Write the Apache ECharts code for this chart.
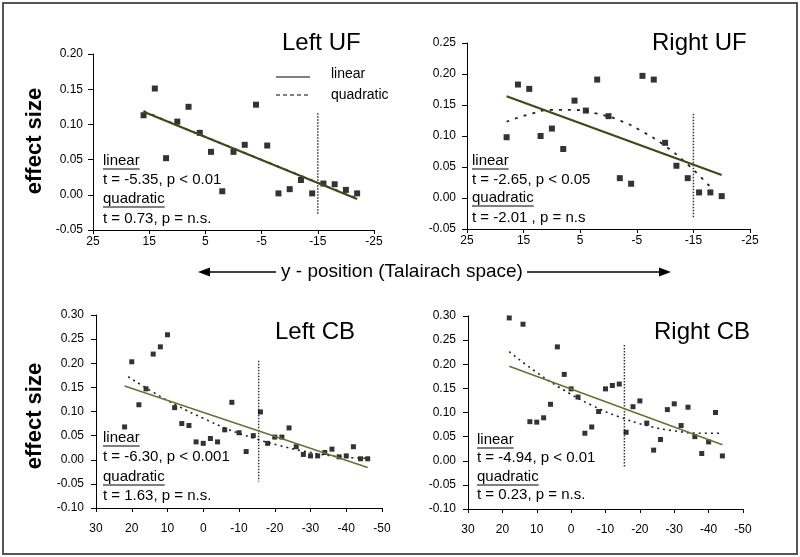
<!DOCTYPE html>
<html><head><meta charset="utf-8">
<script src="https://cdn.jsdelivr.net/npm/echarts@6/dist/echarts.min.js"></script>
<style>html,body{margin:0;padding:0;background:#fff}#c{width:800px;height:557px}</style>
</head><body><div id="c"></div>
<script>
// ---- Left UF ----
const lufX = [16,14,12,10,8,6,4,2,0,-2,-4,-6,-8,-10,-12,-14,-16,-18,-20,-22];
const lufY = [0.113,0.151,0.052,0.104,0.125,0.088,0.061,0.005,0.061,0.071,0.128,0.070,0.002,0.008,0.021,0.002,0.016,0.015,0.007,0.002];
const lufLinX = [16,-22], lufLinY = [0.118,-0.006];
const lufQX = [16,8,0,-8,-16,-22], lufQY = [0.119,0.092,0.066,0.040,0.014,-0.005];
const lufCutX = [-15,-15], lufCutY = [0.116,-0.029];
// ---- Right UF ----
const rufX = [18,16,14,12,10,8,6,4,2,0,-2,-4,-6,-8,-10,-12,-14,-16,-18,-20];
const rufY = [0.098,0.183,0.176,0.100,0.112,0.079,0.157,0.141,0.191,0.132,0.032,0.023,0.197,0.191,0.089,0.052,0.032,0.009,0.009,0.003];
const rufLinX = [18,-20], rufLinY = [0.164,0.037];
const rufQX = [18,14,10,6,2,-2,-6,-10,-14,-18], rufQY = [0.123,0.135,0.142,0.142,0.136,0.125,0.107,0.084,0.054,0.018];
const rufCutX = [-15,-15], rufCutY = [0.136,-0.031];
// ---- Left CB ----
const lcbX = [22,20,18,16,14,12,10,8,6,4,2,0,-2,-4,-6,-8,-10,-12,-14,-16,-18,-20,-22,-24,-26,-28,-30,-32,-34,-36,-38,-40,-42,-44,-46];
const lcbY = [0.068,0.203,0.114,0.147,0.219,0.234,0.259,0.108,0.075,0.071,0.037,0.034,0.044,0.037,0.062,0.119,0.056,0.017,0.050,0.099,0.034,0.047,0.047,0.066,0.027,0.011,0.008,0.008,0.015,0.022,0.006,0.008,0.027,0.002,0.002];
const lcbLinX = [22,-46], lcbLinY = [0.153,-0.016];
const lcbQX = [21,14,7,0,-7,-14,-21,-28,-35,-42,-46], lcbQY = [0.172,0.140,0.111,0.086,0.063,0.045,0.030,0.018,0.009,0.004,0.003];
const lcbCutX = [-15.5,-15.5], lcbCutY = [0.205,-0.045];
// ---- Right CB ----
const rcbX = [18,16,14,12,10,8,6,4,2,0,-2,-4,-6,-8,-10,-12,-14,-16,-18,-20,-22,-24,-26,-28,-30,-32,-34,-36,-38,-40,-42,-44];
const rcbY = [0.296,0.301,0.283,0.081,0.080,0.089,0.117,0.236,0.179,0.149,0.132,0.057,0.070,0.102,0.149,0.156,0.159,0.059,0.112,0.124,0.078,0.022,0.044,0.106,0.118,0.073,0.111,0.050,0.015,0.039,0.100,0.010];
const rcbLinX = [18,-44], rcbLinY = [0.196,0.033];
const rcbQX = [18,10,2,-6,-14,-22,-30,-38,-44], rcbQY = [0.226,0.183,0.146,0.115,0.091,0.073,0.062,0.057,0.057];
const rcbCutX = [-15.5,-15.5], rcbCutY = [0.240,-0.012];

// tick labels
const ufXTicks = [25,15,5,-5,-15,-25];
const titles = ['Left UF','Right UF','Left CB','Right CB'];
const stats = [
  ['t = -5.35, p < 0.01','t = 0.73, p = n.s.'],
  ['t = -2.65, p < 0.05','t = -2.01 , p = n.s'],
  ['t = -6.30, p < 0.001','t = 1.63, p = n.s.'],
  ['t = -4.94, p < 0.01','t = 0.23, p = n.s.']
];
const yLabel = 'effect size';
const xLabel = 'y - position (Talairach space)';
const legendNames = ['linear','quadratic'];

const FONT = "'Liberation Sans', Arial, sans-serif";
const pairs = (xs, ys) => xs.map((x,i)=>[x, ys[i]]);

const grids = [
  {left:93, top:54, width:281, height:176},
  {left:467, top:43, width:283, height:186},
  {left:96, top:315, width:286, height:193},
  {left:468, top:316, width:275, height:193}
].map(g => Object.assign({outerBoundsMode:'none', containLabel:false}, g));

function xAxisFor(i){
  const top = i < 2;
  const ax = {
    type:'value', gridIndex:i, inverse:true,
    axisLine:{show:true, onZero:false, lineStyle:{color:'#000', width:1}},
    axisTick:{show:true, length:4, lineStyle:{color:'#000'}},
    splitLine:{show:false},
    axisLabel:{color:'#000', fontFamily:FONT, fontSize:12, margin: top?6:15}
  };
  if (top){
    ax.min = -25; ax.max = 25;
    ax.axisTick.customValues = ufXTicks;
    ax.axisLabel.customValues = ufXTicks;
  } else {
    ax.min = -50; ax.max = 30; ax.interval = 10;
  }
  return ax;
}
function yAxisFor(i, min, max){
  return {
    type:'value', gridIndex:i, min:min, max:max, interval:0.05,
    axisLine:{show:true, onZero:false, lineStyle:{color:'#000', width:1}},
    axisTick:{show:true, length:5, lineStyle:{color:'#000'}},
    splitLine:{show:false},
    axisLabel:{color:'#000', fontFamily:FONT, fontSize:12, margin:[10,11,12,12][i],
      formatter: v => v.toFixed(2)}
  };
}

const series = [];
function addPanel(i, xs, ys, linX, linY, qX, qY, cutX, cutY){
  const top = i < 2;
  series.push({type:'scatter', xAxisIndex:i, yAxisIndex:i, data:pairs(xs,ys),
    symbol:'rect', symbolSize: top?6:5, itemStyle:{color:'#000'}, z:3});
  series.push({type:'line', xAxisIndex:i, yAxisIndex:i, data:pairs(cutX,cutY),
    symbol:'none', lineStyle:{color:'#333', width:1.5, type:[1.5,1.5]}, z:2});
  series.push({type:'line', xAxisIndex:i, yAxisIndex:i, data:pairs(qX,qY), smooth:true,
    symbol:'none', lineStyle:{color:'#222', width: top?1.8:1.6, type: top?[3,6]:[2,4]}, z:4});
  series.push({type:'line', xAxisIndex:i, yAxisIndex:i, data:pairs(linX,linY),
    symbol:'none', lineStyle:{color: top?'#46461a':'#6e6e32', width: top?2.2:1.5}, z:5});
}
addPanel(0, lufX, lufY, lufLinX, lufLinY, lufQX, lufQY, lufCutX, lufCutY);
addPanel(1, rufX, rufY, rufLinX, rufLinY, rufQX, rufQY, rufCutX, rufCutY);
addPanel(2, lcbX, lcbY, lcbLinX, lcbLinY, lcbQX, lcbQY, lcbCutX, lcbCutY);
addPanel(3, rcbX, rcbY, rcbLinX, rcbLinY, rcbQX, rcbQY, rcbCutX, rcbCutY);

// text measuring for underlines
const ctx = document.createElement('canvas').getContext('2d');
function textW(t, size){ ctx.font = size+'px '+FONT; return ctx.measureText(t).width; }

const graphic = [];
function txt(x, y, t, size, extra){
  graphic.push(Object.assign({type:'text', x:x, y:y, silent:true,
    style:{text:t, fill:'#000', font: size+'px '+FONT, textVerticalAlign:'middle', textAlign:'left'}}, extra||{}));
}
function hline(x1, x2, y, w, dash){
  graphic.push({type:'line', silent:true, shape:{x1:x1,y1:y,x2:x2,y2:y},
    style:{stroke:'#000', lineWidth:w||1, lineDash: dash||null}});
}
// frame
graphic.push({type:'rect', silent:true, shape:{x:3,y:3,width:794,height:551},
  style:{fill:'none', stroke:'#555', lineWidth:2}});
// titles
const titlePos = [[282,43],[652,43],[275,332],[654,332]];
titles.forEach((t,i)=>txt(titlePos[i][0], titlePos[i][1], t, 24));
// annotations
const annPos = [[103,[161,180,199,219]],[472,[161,180,198,218]],[103,[438,457,477,496]],[477,[440,458,477,495]]];
annPos.forEach((p,i)=>{
  const x = p[0], ys = p[1], fs = 15;
  txt(x, ys[0], legendNames[0], fs); hline(x, x+textW(legendNames[0],fs), ys[0]+8, 1);
  txt(x, ys[1], stats[i][0], fs);
  txt(x, ys[2], legendNames[1], fs); hline(x, x+textW(legendNames[1],fs), ys[2]+8, 1);
  txt(x, ys[3], stats[i][1], fs);
});
// legend in Left UF
hline(276, 310, 77, 1);
hline(276, 310, 95, 1, [4,3]);
txt(331, 74, legendNames[0], 14);
txt(331, 95, legendNames[1], 14);
// y labels
[141, 416].forEach(y => graphic.push({type:'text', x:35, y:y, rotation:Math.PI/2, silent:true,
  style:{text:yLabel, fill:'#000', font:'bold 22px '+FONT, textAlign:'center', textVerticalAlign:'middle'}}));
// x label with arrows
graphic.push({type:'text', x:402, y:272, silent:true,
  style:{text:xLabel, fill:'#000', font:'19px '+FONT, textAlign:'center', textVerticalAlign:'middle'}});
hline(206, 276, 272, 1.5);
hline(527, 664, 272, 1.5);
graphic.push({type:'polygon', silent:true, shape:{points:[[198,272],[210,267.5],[210,276.5]]}, style:{fill:'#000'}});
graphic.push({type:'polygon', silent:true, shape:{points:[[671,272],[659,267.5],[659,276.5]]}, style:{fill:'#000'}});

const chart = echarts.init(document.getElementById('c'), null, {renderer:'canvas'});
chart.setOption({
  animation:false,
  backgroundColor:'#fff',
  grid: grids,
  xAxis: [0,1,2,3].map(xAxisFor),
  yAxis: [yAxisFor(0,-0.05,0.20), yAxisFor(1,-0.05,0.25), yAxisFor(2,-0.10,0.30), yAxisFor(3,-0.10,0.30)],
  series: series,
  graphic: graphic
});
</script></body></html>
